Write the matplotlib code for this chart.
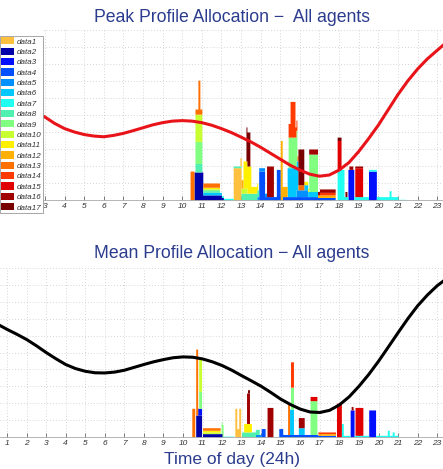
import numpy as np
import matplotlib
matplotlib.use("Agg")
import matplotlib.pyplot as plt
from matplotlib.patches import Patch

# ---------------- data ----------------
series_names = ["data1", "data2", "data3", "data4", "data5", "data6", "data7", "data8", "data9",
                "data10", "data11", "data12", "data13", "data14", "data15", "data16", "data17"]
series_colors = ["#FFC040", "#0000AA", "#0010FF", "#0050FF", "#0090FF", "#00C8FF", "#20FFF0",
                 "#50F0B0", "#80FF80", "#C8FF30", "#FFF000", "#FFB000", "#FF7000", "#FF3A00",
                 "#E00000", "#A00000", "#780000"]

# blocks per series: (start hour, end hour, stacked height)
peak_blocks = [
    [(12.6, 13.0, 1.9)],                                                     # data1
    [(10.6, 11.05, 1.65), (11.05, 12.0, 0.3), (12.0, 12.1, 0.15)],           # data2
    [(18.45, 18.75, 1.8), (19.5, 19.9, 1.7)],                                # data3
    [(14.8, 15.0, 1.8), (13.9, 14.2, 1.7), (14.2, 14.8, 0.2),
     (15.1, 16.9, 0.2), (16.9, 17.8, 0.15)],                                 # data4
    [(13.8, 14.3, 0.2), (15.8, 16.4, 0.4)],                                  # data5
    [(15.35, 15.9, 1.7), (11.05, 12.0, 0.15), (16.2, 16.9, 0.3)],            # data6
    [(12.0, 12.6, 0.1), (17.9, 18.25, 1.8), (18.25, 18.45, 0.2),
     (18.75, 19.5, 0.2), (19.9, 21.0, 0.2), (20.55, 20.65, 0.35),
     (19.5, 19.9, 0.1), (21.0, 21.4, 0.04)],                                 # data7
    [(13.0, 13.9, 0.4), (10.65, 11.0, 0.5), (12.6, 13.0, 0.1),
     (11.05, 11.9, 0.1)],                                                    # data8
    [(10.65, 11.0, 1.3), (15.4, 15.85, 1.8), (16.45, 16.9, 2.2),
     (11.05, 11.9, 0.1)],                                                    # data9
    [(10.65, 11.0, 1.6), (13.0, 13.3, 0.3)],                                 # data10
    [(13.1, 13.5, 1.6), (13.5, 13.85, 0.4), (11.05, 11.9, 0.1),
     (16.2, 16.45, 0.2)],                                                    # data11
    [(15.0, 15.1, 3.5), (15.1, 15.35, 0.6), (12.95, 13.1, 0.5),
     (16.9, 17.8, 0.15)],                                                    # data12
    [(10.4, 10.6, 1.7), (10.65, 11.0, 0.3), (10.8, 10.9, 1.7),
     (11.05, 11.9, 0.25), (15.85, 16.2, 0.3)],                               # data13
    [(15.5, 15.75, 2.1), (15.4, 15.5, 0.8), (15.75, 15.85, 0.6),
     (17.0, 17.8, 0.15)],                                                    # data14
    [(18.8, 19.2, 1.7), (17.9, 18.1, 1.7)],                                  # data15
    [(14.3, 14.65, 1.8), (16.45, 16.9, 0.3), (18.5, 18.7, 0.2),
     (18.8, 19.2, 0.1), (16.9, 17.8, 0.2)],                                  # data16
    [(13.25, 13.45, 2.0), (15.9, 16.2, 2.1), (17.9, 18.1, 0.2),
     (18.3, 18.4, 0.3)],                                                     # data17
]

mean_blocks = [
    [(12.65, 12.75, 1.7), (12.85, 12.95, 1.7), (12.75, 12.85, 0.5)],         # data1
    [(10.65, 10.95, 1.3), (11.0, 12.0, 0.2)],                                # data2
    [(18.55, 18.75, 1.6), (19.5, 19.85, 1.6), (10.75, 10.95, 0.4)],          # data3
    [(14.0, 14.2, 0.5), (14.9, 15.1, 0.5), (15.1, 16.9, 0.15),
     (16.9, 17.8, 0.1)],                                                     # data4
    [(13.7, 14.0, 0.15)],                                                    # data5
    [(15.45, 15.65, 1.5), (15.9, 16.2, 0.4)],                                # data6
    [(12.0, 12.6, 0.05), (18.1, 18.2, 0.8), (18.2, 18.55, 0.1),
     (18.75, 19.5, 0.1), (19.85, 21.0, 0.1), (20.45, 20.55, 0.3),
     (20.7, 20.8, 0.2)],                                                     # data7
    [(13.0, 13.9, 0.3)],                                                     # data8
    [(15.5, 15.65, 1.3), (16.5, 16.85, 2.0), (10.8, 10.95, 1.0),
     (11.95, 12.05, 0.7)],                                                   # data9
    [(10.8, 10.95, 1.9), (11.0, 11.9, 0.1)],                                 # data10
    [(13.1, 13.5, 0.5), (11.0, 11.9, 0.1)],                                  # data11
    [(16.9, 17.8, 0.1)],                                                     # data12
    [(10.45, 10.6, 1.7), (10.65, 10.75, 3.9), (11.0, 11.9, 0.15),
     (15.35, 15.45, 1.8)],                                                   # data13
    [(15.5, 15.65, 1.5), (16.9, 17.8, 0.1)],                                 # data14
    [(17.85, 18.1, 2.0), (18.8, 19.2, 1.65), (16.5, 16.85, 0.25)],           # data15
    [(13.25, 13.4, 1.8), (14.3, 14.6, 1.75), (15.9, 16.2, 0.6),
     (18.6, 18.7, 0.2)],                                                     # data16
    [(13.3, 13.4, 0.2)],                                                     # data17
]

peak_curve_hours = [2.9, 3, 3.5, 4, 4.5, 5, 5.5, 6, 6.5, 7, 7.5, 8, 8.5, 9, 9.5, 10, 10.5, 11,
                    11.5, 12, 12.5, 13, 13.5, 14, 14.5, 15, 15.5, 16, 16.5, 17, 17.5, 18, 18.5,
                    19, 19.5, 20, 20.5, 21, 21.5, 22, 22.5, 23, 23.4]
peak_curve = [4.95, 4.88, 4.5, 4.2, 4.0, 3.85, 3.76, 3.72, 3.8, 3.92, 4.08, 4.25, 4.42, 4.55,
              4.64, 4.67, 4.64, 4.55, 4.4, 4.2, 3.97, 3.7, 3.42, 3.1, 2.75, 2.4, 2.05, 1.76,
              1.52, 1.4, 1.47, 1.76, 2.2, 2.85, 3.6, 4.4, 5.3, 6.2, 7.0, 7.7, 8.3, 8.8, 9.2]
mean_curve_hours = [0.6, 1, 1.5, 2, 2.5, 3, 3.5, 4, 4.5, 5, 5.5, 6, 6.5, 7, 7.5, 8, 8.5, 9, 9.5,
                    10, 10.5, 11, 11.5, 12, 12.5, 13, 13.5, 14, 14.5, 15, 15.5, 16, 16.5, 17,
                    17.5, 18, 18.5, 19, 19.5, 20, 20.5, 21, 21.5, 22, 22.5, 23, 23.4]
mean_curve = [6.62, 6.37, 6.08, 5.77, 5.4, 5.0, 4.63, 4.29, 4.05, 3.89, 3.8, 3.79, 3.84, 3.95,
              4.12, 4.29, 4.45, 4.58, 4.69, 4.74, 4.72, 4.62, 4.45, 4.23, 3.95, 3.63, 3.32,
              3.0, 2.63, 2.24, 1.92, 1.65, 1.48, 1.45, 1.58, 1.9, 2.38, 3.0, 3.7, 4.48, 5.32,
              6.17, 7.0, 7.76, 8.4, 8.95, 9.3]

peak_ticks = list(range(3, 24))
mean_ticks = list(range(1, 24))

TITLE_COLOR = "#2B3C8E"
FONT = ["Liberation Sans", "DejaVu Sans"]

# ---------------- figure ----------------
W, H = 443, 469
fig = plt.figure(figsize=(W / 100, H / 100), dpi=100)
fig.patch.set_facecolor("white")


def px_axes(x0, x1, ytop, ybot):
    return fig.add_axes([x0 / W, 1 - ybot / H, (x1 - x0) / W, (ybot - ytop) / H])


t_grid = np.round(np.arange(10.3, 21.6, 0.025), 4)


def draw_stack(ax, blocks):
    base = np.zeros_like(t_grid)
    for blist, col in zip(blocks, series_colors):
        vals = np.zeros_like(t_grid)
        for a, b, h in blist:
            m = (t_grid >= a - 1e-9) & (t_grid < b - 1e-9)
            vals[m] += h
        top = base + vals
        ax.fill_between(t_grid, base, top, step="post", color=col, linewidth=0, zorder=2)
        base = top


def style_axes(ax, xlim, ticks):
    ax.set_xlim(*xlim)
    ax.set_ylim(0, 10)
    ax.set_xticks(ticks)
    ax.set_xticklabels([str(t) for t in ticks], fontsize=6, style="italic", color="#333333",
                       family=FONT)
    ax.set_yticks(range(0, 11))
    ax.set_yticklabels([])
    ax.tick_params(axis="y", length=0)
    ax.tick_params(axis="x", direction="in", length=3, width=0.6, color="#666666", pad=2)
    ax.grid(True, linestyle=(0, (1, 2.5)), color="#c8c8c8", linewidth=0.6, zorder=0)
    ax.set_axisbelow(True)
    for s in ["top", "right", "left"]:
        ax.spines[s].set_visible(False)
    ax.spines["bottom"].set_color("#aaaaaa")
    ax.spines["bottom"].set_linewidth(0.6)
    ax.set_facecolor("white")


# top axes (peak)
ax1 = px_axes(43, 444, 30, 200)
style_axes(ax1, (2.9, 23.35), peak_ticks)
draw_stack(ax1, peak_blocks)
ax1.plot(peak_curve_hours, peak_curve, color="#E8141A", linewidth=2.2, zorder=3,
         solid_capstyle="round", solid_joinstyle="round")

# bottom axes (mean)
ax2 = px_axes(0, 444, 268, 437)
style_axes(ax2, (0.64, 23.35), mean_ticks)
draw_stack(ax2, mean_blocks)
ax2.plot(mean_curve_hours, mean_curve, color="#000000", linewidth=2.2, zorder=3,
         solid_capstyle="round", solid_joinstyle="round")

# titles and label
fig.text(231.5 / W, 1 - 17 / H, "Peak Profile Allocation \u2212  All agents", ha="center", va="center",
         fontsize=12.7, color=TITLE_COLOR, family=FONT)
fig.text(231.5 / W, 1 - 254 / H, "Mean Profile Allocation \u2212 All agents", ha="center", va="center",
         fontsize=12.7, color=TITLE_COLOR, family=FONT)
fig.text(231.5 / W, 1 - 459 / H, "Time of day (24h)", ha="center", va="center",
         fontsize=12.5, color=TITLE_COLOR, family=FONT)

# legend
handles = [Patch(facecolor=c, edgecolor="none") for c in series_colors]
leg = fig.legend(handles, series_names, loc="upper left", bbox_to_anchor=(0.0, 1 - 36 / H),
                 bbox_transform=fig.transFigure, frameon=True, fancybox=False, framealpha=1,
                 edgecolor="#999999",
                 prop={"size": 5.8, "style": "italic", "family": FONT},
                 handlelength=1.65, handleheight=1.0, handletextpad=0.3, labelspacing=0.25,
                 borderpad=0.15, borderaxespad=0)
leg.get_frame().set_linewidth(0.6)
leg.set_zorder(10)
for txt in leg.get_texts():
    txt.set_color("#333333")

fig.savefig("out.png", dpi=100, facecolor="white")
